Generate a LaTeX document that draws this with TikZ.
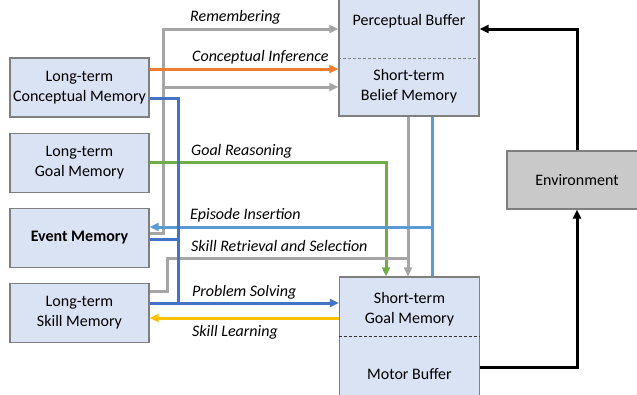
\documentclass[tikz,border=0pt]{standalone}
\usepackage{fontspec}
\setmainfont{Carlito}
\usetikzlibrary{arrows.meta, positioning}
\definecolor{boxblue}{HTML}{DAE3F3}
\definecolor{boxedge}{HTML}{7F7F7F}
\definecolor{envgray}{HTML}{C9C9C9}
\definecolor{linegray}{HTML}{A5A5A5}
\definecolor{lineorange}{HTML}{ED7D31}
\definecolor{linedblue}{HTML}{4472C4}
\definecolor{linelblue}{HTML}{5B9BD5}
\definecolor{linegreen}{HTML}{70AD47}
\definecolor{linegold}{HTML}{FFC000}

\begin{document}
\begin{tikzpicture}[x=1pt, y=-1pt,
  mem/.style={draw=boxedge, line width=1.2pt, fill=boxblue, minimum width=139pt,
    minimum height=59pt, inner sep=0pt, align=center, font=\fontsize{16}{20}\selectfont},
  txt/.style={inner sep=0pt, align=center, font=\fontsize{16}{20}\selectfont},
  lbl/.style={anchor=west, inner sep=0pt, font=\fontsize{16}{19}\selectfont\itshape},
  link/.style={line width=3pt},
  flow/.style={line width=3pt, -{Triangle[length=9pt,width=8pt]}}]

\useasboundingbox (0,0) rectangle (637,394);
\clip (0,0) rectangle (637,394);

% long-term memories
\node[mem] (ltcm) at (79.5,87.5) {Long-term\\Conceptual Memory};
\node[mem, below=15pt of ltcm] (ltgm) {Long-term\\Goal Memory};
\node[mem, below=15pt of ltgm] (em) {\textbf{Event Memory}};
\node[mem, below=15pt of em] (ltsm) {Long-term\\Skill Memory};

% perceptual buffer + belief memory
\node[mem, minimum width=140pt, minimum height=126pt] (sbuf) at (409,53) {};
\node[txt] (pb) at (409,21) {Perceptual Buffer};
\node[txt] (sbm) at (409,86) {Short-term\\Belief Memory};
\coordinate (cut1) at (409,58);
\draw[boxedge, dash pattern=on 3pt off 2pt] (sbuf.west |- cut1) -- (sbuf.east |- cut1);

% goal memory + motor buffer
\node[mem, minimum width=140pt, minimum height=143pt] (gbuf) at (409.5,348.5) {};
\node[txt] (stgm) at (409.5,309) {Short-term\\Goal Memory};
\node[txt] (mb) at (409.5,374) {Motor Buffer};
\coordinate (cut2) at (409.5,336);
\draw[black!80, dash pattern=on 3pt off 2pt] (gbuf.west |- cut2) -- (gbuf.east |- cut2);

% environment
\node[mem, fill=envgray, minimum width=140pt, minimum height=58pt] (env) at (577,180) {Environment};

% lanes
\coordinate (remtop) at (163,29);
\coordinate (remmid) at (163,87);
\coordinate (remlow) at (163,233);
\coordinate (ci) at (0,69);
\coordinate (psa) at (178,98);
\coordinate (psb) at (178,239);
\coordinate (psc) at (178,303);
\coordinate (gr) at (386,162);
\coordinate (ei) at (432,227);
\coordinate (sr) at (408,258);
\coordinate (srb) at (167,291);
\coordinate (sl) at (0,318);
\coordinate (mo) at (577,367);
\coordinate (pe) at (577,29);

% Remembering
\draw[flow, linegray] (em.east |- remlow) -- (remlow) -- (remtop) -- (sbuf.west |- remtop);
\draw[flow, linegray] (remmid) -- (sbuf.west |- remmid);
\node[lbl] (remlbl) at (190,17) {Remembering};

% Conceptual Inference
\draw[flow, lineorange] (ltcm.east |- ci) -- (sbuf.west |- ci);
\node[lbl] (cilbl) at (192,57) {Conceptual Inference};

% Goal Reasoning
\draw[flow, linegreen] (ltgm.east |- gr) -- (gr) -- (gr |- gbuf.north);
\node[lbl] (grlbl) at (191,151) {Goal Reasoning};

% Skill Retrieval and Selection
\draw[flow, linegray] (sr |- sbuf.south) -- (sr |- gbuf.north);
\draw[link, linegray] (ltsm.east |- srb) -- (srb) -- (srb |- sr) -- (sr);
\node[lbl] (srlbl) at (191,246) {Skill Retrieval and Selection};

% Episode Insertion
\draw[link, linelblue] (ei |- sbuf.south) -- (ei |- gbuf.north);
\draw[flow, linelblue] (ei) -- (em.east |- ei);
\node[lbl] (eilbl) at (190,215) {Episode Insertion};

% Problem Solving
\draw[link, linedblue] (ltcm.east |- psa) -- (psa) -- (psc);
\draw[link, linedblue] (em.east |- psb) -- (psb);
\draw[flow, linedblue] (ltsm.east |- psc) -- (gbuf.west |- psc);
\node[lbl] (pslbl) at (192,292) {Problem Solving};

% Skill Learning
\draw[flow, linegold] (gbuf.west |- sl) -- (ltsm.east |- sl);
\node[lbl] (sllbl) at (192,332) {Skill Learning};

% environment loop
\draw[flow, black] (gbuf.east |- mo) -- (mo) -- (env.south);
\draw[flow, black] (env.north) -- (pe) -- (sbuf.east |- pe);
\end{tikzpicture}
\end{document}
